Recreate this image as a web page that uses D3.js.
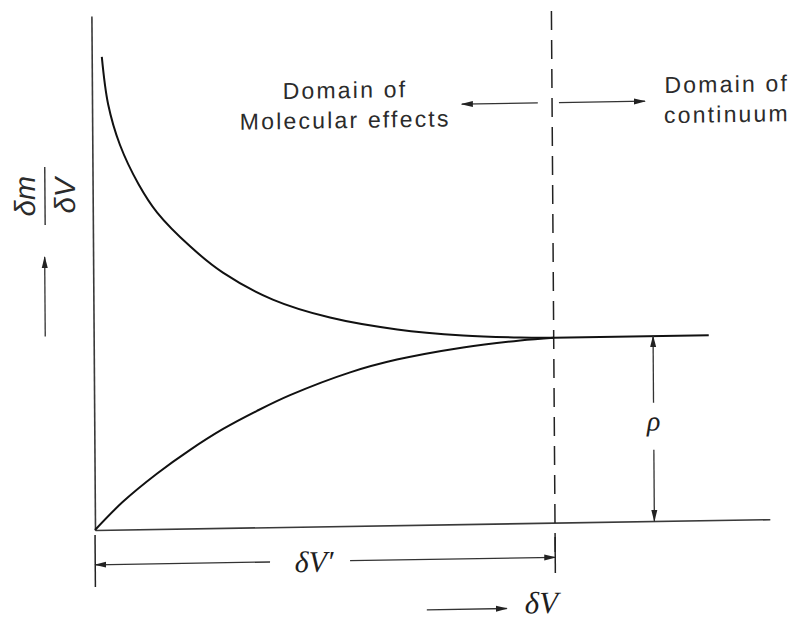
<!DOCTYPE html>
<html>
<head>
<meta charset="utf-8">
<script src="https://cdn.jsdelivr.net/npm/d3@7"></script>
<style>
  body { margin: 0; background: #fff; }
  svg { display: block; }
  .sans { font-family: "Liberation Sans", Arial, sans-serif; fill: #2b2b2b; }
  .greek { font-family: "Liberation Serif", "DejaVu Serif", serif; font-style: italic; fill: #1e1e1e; }
</style>
</head>
<body>
<svg id="chart" width="794" height="619"></svg>
<script>
// x = dV / dV'   y = (dm/dV) / rho
const upperX = [0.022, 0.035, 0.060, 0.100, 0.140, 0.211, 0.282, 0.390, 0.514, 0.660, 0.803, 0.927, 1.0];
const upperY = [2.556, 2.300, 2.080, 1.865, 1.710, 1.525, 1.380, 1.230, 1.128, 1.058, 1.020, 1.004, 1.0];
const lowerX = [0, 0.061, 0.136, 0.208, 0.280, 0.354, 0.426, 0.557, 0.659, 0.803, 0.927, 1.0];
const lowerY = [0, 0.150, 0.300, 0.425, 0.535, 0.630, 0.712, 0.830, 0.895, 0.955, 0.988, 1.0];
const plateauX = [1.0, 1.337];
const plateauY = [1.0, 1.0];

const xMax = 1.467;   // end of dV axis
const yMax = 2.778;   // top of dm/dV axis
const rhoX = 1.216;   // where the rho dimension sits
const leftLabels = ["Domain of", "Molecular effects"];
const rightLabels = ["Domain of", "continuum"];

(() => {
  const svg = d3.select("#chart");

  // the printed figure is a little skewed on the page
  const g = svg.append("g")
    .attr("transform", "translate(95,530) matrix(1,-0.016,0.007,1,0,0)");

  const x = d3.scaleLinear().domain([0, 1]).range([0, 460]);
  const y = d3.scaleLinear().domain([0, 1]).range([0, -185]);

  svg.append("defs").append("marker")
    .attr("id", "head")
    .attr("viewBox", "0 -4 12 8")
    .attr("refX", 11)
    .attr("refY", 0)
    .attr("markerUnits", "userSpaceOnUse")
    .attr("markerWidth", 12)
    .attr("markerHeight", 8)
    .attr("orient", "auto")
    .append("path")
    .attr("d", "M0,-3L12,0L0,3Z")
    .attr("fill", "#222");

  // axes
  const xa = x.copy().domain([0, xMax]).range([x(0), x(xMax)]);
  const ya = y.copy().domain([0, yMax]).range([y(0), y(yMax)]);
  g.append("g")
    .call(d3.axisBottom(xa).tickValues([]).tickSizeOuter(0))
    .select(".domain").attr("stroke", "#3a3a3a").attr("stroke-width", 1.6);
  g.append("g")
    .call(d3.axisLeft(ya).tickValues([]).tickSizeOuter(0))
    .select(".domain").attr("stroke", "#3a3a3a").attr("stroke-width", 1.6);

  // dashed boundary at dV'
  g.append("line")
    .attr("x1", x(1)).attr("x2", x(1))
    .attr("y1", y(-0.159)).attr("y2", y(yMax))
    .attr("stroke", "#222")
    .attr("stroke-width", 1.5)
    .attr("stroke-dasharray", "19,10");

  const line = d3.line()
    .x(d => x(d[0]))
    .y(d => y(d[1]))
    .curve(d3.curveCatmullRom.alpha(0.5));

  const series = [
    d3.zip(upperX, upperY),
    d3.zip(lowerX, lowerY),
    d3.zip(plateauX, plateauY)
  ];
  g.selectAll(".curve")
    .data(series)
    .join("path")
    .attr("class", "curve")
    .attr("d", line)
    .attr("fill", "none")
    .attr("stroke", "#111")
    .attr("stroke-width", 2);

  const arrow = (x1, y1, x2, y2) => g.append("line")
    .attr("x1", x1).attr("y1", y1)
    .attr("x2", x2).attr("y2", y2)
    .attr("stroke", "#333")
    .attr("stroke-width", 1.3)
    .attr("marker-end", "url(#head)");

  // domain arrows
  arrow(x(0.969), y(2.27), x(0.804), y(2.27));
  arrow(x(1.015), y(2.27), x(1.202), y(2.27));

  // rho dimension
  arrow(x(rhoX), y(0.64), x(rhoX), y(1.0));
  arrow(x(rhoX), y(0.385), x(rhoX), y(0.0));
  g.append("text")
    .attr("class", "greek")
    .attr("x", x(rhoX))
    .attr("y", y(0.49))
    .attr("text-anchor", "middle")
    .style("font-size", "28px")
    .text("ρ");

  // dV' dimension
  [[0, -0.027, -0.308], [1, -0.078, -0.272]].forEach(([tx, a, b]) => {
    g.append("line")
      .attr("x1", x(tx)).attr("x2", x(tx))
      .attr("y1", y(a)).attr("y2", y(b))
      .attr("stroke", "#222").attr("stroke-width", 1.5);
  });
  arrow(x(0.38), y(-0.188), x(0), y(-0.188));
  arrow(x(0.554), y(-0.188), x(1), y(-0.188));
  g.append("text")
    .attr("class", "greek")
    .attr("x", x(0.476))
    .attr("y", y(-0.246))
    .attr("text-anchor", "middle")
    .style("font-size", "30px")
    .text("δV′");

  // dV direction
  arrow(x(0.72), y(-0.46), x(0.894), y(-0.46));
  g.append("text")
    .attr("class", "greek")
    .attr("x", x(0.933))
    .attr("y", y(-0.488))
    .style("font-size", "31px")
    .text("δV");

  // domain labels
  const labels = (texts, cx, rows) => {
    g.append("text")
      .attr("class", "sans")
      .attr("text-anchor", "middle")
      .style("font-size", "23px")
      .style("letter-spacing", "2.2px")
      .selectAll("tspan")
      .data(texts)
      .join("tspan")
      .attr("x", x(cx))
      .attr("y", (d, i) => y(rows[i]))
      .text(d => d);
  };
  labels(leftLabels, 0.55, [2.313, 2.151]);
  labels(rightLabels, 1.38, [2.312, 2.150]);

  // y label dm/dV with upward arrow
  const yl = g.append("g")
    .attr("transform", `translate(0,${y(1.81)}) rotate(-90)`);
  yl.append("text")
    .attr("class", "sans")
    .attr("x", 0).attr("y", -57.7)
    .attr("text-anchor", "middle")
    .style("font-size", "29px")
    .style("font-style", "italic")
    .text("δm");
  yl.append("line")
    .attr("x1", -29).attr("x2", 29)
    .attr("y1", -47.7).attr("y2", -47.7)
    .attr("stroke", "#333").attr("stroke-width", 1.4);
  yl.append("text")
    .attr("class", "sans")
    .attr("x", 0).attr("y", -17.7)
    .attr("text-anchor", "middle")
    .style("font-size", "29px")
    .style("font-style", "italic")
    .text("δV");
  arrow(-48.4, y(1.05), -48.4, y(1.48));
})();
</script>
</body>
</html>
